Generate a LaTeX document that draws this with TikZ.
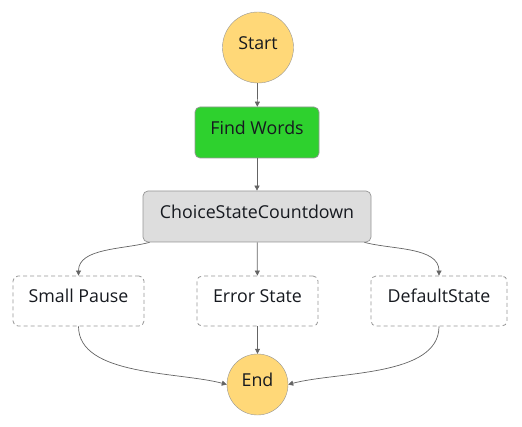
\documentclass[tikz,border=0pt]{standalone}
\usepackage{fontspec}
\setmainfont{Open Sans}
\usetikzlibrary{arrows.meta}
\definecolor{startyellow}{RGB}{255,216,120}
\definecolor{taskgreen}{RGB}{46,209,46}
\definecolor{choicegray}{RGB}{221,221,221}
\definecolor{edgegray}{RGB}{100,100,100}
\definecolor{boxline}{RGB}{150,150,150}
\definecolor{inkblack}{RGB}{22,25,31}
\begin{document}
\begin{tikzpicture}[x=1pt,y=1pt,
  every node/.style={font=\fontsize{17.8}{20}\selectfont,text=inkblack,text height=12pt,text depth=8pt},
  terminal/.style={circle,draw=boxline,fill=startyellow,inner sep=0pt},
  taskbox/.style={rectangle,rounded corners=5pt,draw=boxline,line width=0.7pt,minimum height=51pt},
  passbox/.style={rectangle,rounded corners=5pt,draw=boxline,line width=0.8pt,dash pattern=on 4pt off 3pt,minimum height=50pt},
  flow/.style={draw=edgegray,line width=0.7pt,-{Triangle[length=5pt,width=5pt]}}]
\useasboundingbox (0,0) rectangle (522,426);
\node[terminal,minimum size=71pt] (start) at (258,378.5) {Start};
\node[taskbox,fill=taskgreen,minimum width=124pt] (find) at (257,293.5) {Find Words};
\node[taskbox,fill=choicegray,minimum width=228pt] (choice) at (257,209.5) {ChoiceStateCountdown};
\node[passbox,minimum width=131pt] (pause) at (78.5,125) {Small Pause};
\node[passbox,minimum width=121pt] (error) at (257.5,125) {Error State};
\node[passbox,minimum width=136pt] (default) at (439,125) {DefaultState};
\node[terminal,minimum size=61pt] (end) at (257.5,41.5) {End};
\draw[flow] (start) -- (find);
\draw[flow] (find) -- (choice);
\draw[flow] ([xshift=7pt]choice.south west) to[out=195,in=90,looseness=0.9] (pause.north);
\draw[flow] (choice) -- (error);
\draw[flow] ([xshift=-7pt]choice.south east) to[out=-15,in=90,looseness=0.9] (default.north);
\draw[flow] (pause.south) to[out=-90,in=165,looseness=0.8] (end.west);
\draw[flow] (error) -- (end);
\draw[flow] (default.south) to[out=-90,in=15,looseness=0.8] (end.east);
\end{tikzpicture}
\end{document}
